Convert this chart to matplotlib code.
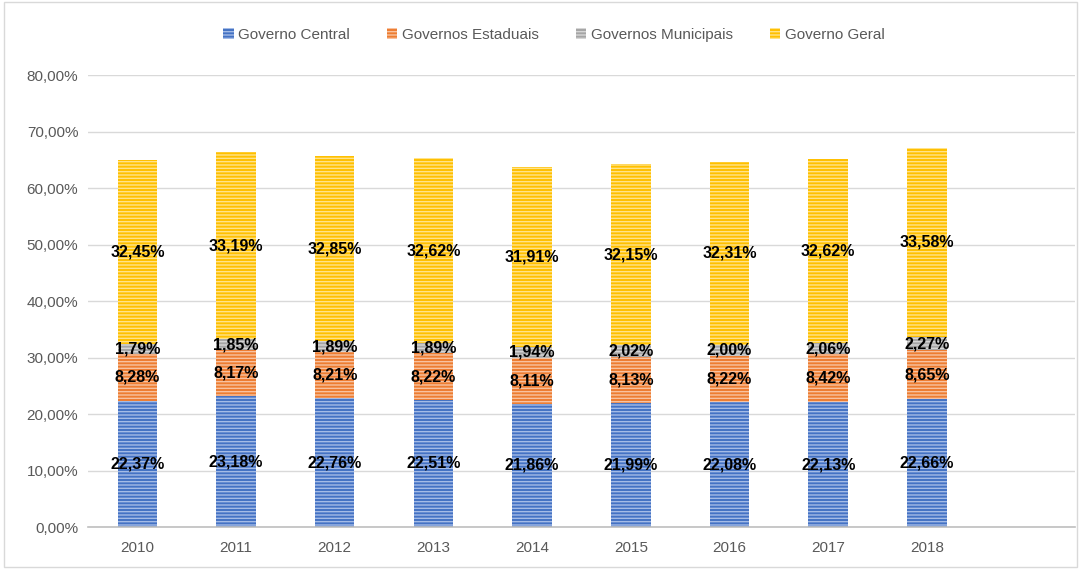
import numpy as np
import matplotlib.pyplot as plt
from matplotlib.patches import Rectangle

# participacao por esfera de governo (% do PIB)
anos = ['2010', '2011', '2012', '2013', '2014', '2015', '2016', '2017', '2018']
central = [22.37, 23.18, 22.76, 22.51, 21.86, 21.99, 22.08, 22.13, 22.66]
estaduais = [8.28, 8.17, 8.21, 8.22, 8.11, 8.13, 8.22, 8.42, 8.65]
municipais = [1.79, 1.85, 1.89, 1.89, 1.94, 2.02, 2.00, 2.06, 2.27]
geral = [32.45, 33.19, 32.85, 32.62, 31.91, 32.15, 32.31, 32.62, 33.58]

series = [
    ('Governo Central', central, '#4472C4', '#A4BBE6'),
    ('Governos Estaduais', estaduais, '#ED7D31', '#F8C2A0'),
    ('Governos Municipais', municipais, '#A5A5A5', '#D6D6D6'),
    ('Governo Geral', geral, '#FFC000', '#FFE38A'),
]

plt.rcParams['font.family'] = ['Liberation Sans', 'DejaVu Sans']
plt.rcParams['hatch.linewidth'] = 1.0


def fmt(v):
    return f'{v:.2f}'.replace('.', ',') + '%'


fig = plt.figure(figsize=(10.81, 5.69), dpi=100)
ax = fig.add_axes([0.0814, 0.0738, 0.913, 0.7942])

x = np.arange(len(anos))
bottom = np.zeros(len(anos))
for name, vals, color, light in series:
    vals = np.array(vals)
    ax.bar(x, vals, width=0.4, bottom=bottom, color=color, edgecolor=light,
           hatch='-----', linewidth=0, label=name, zorder=2)
    for xi, b, v in zip(x, bottom, vals):
        ax.text(xi, b + v / 2, fmt(v), ha='center', va='center', fontsize=11.5,
                fontweight='bold', color='black', zorder=3)
    bottom += vals

ax.set_xlim(-0.5, 9.5)
ax.set_ylim(0, 80)
ax.set_yticks(np.arange(0, 81, 10))
ax.set_yticklabels([f'{v},00%' for v in range(0, 81, 10)])
ax.set_xticks(x)
ax.set_xticklabels(anos)
ax.tick_params(axis='both', length=0, labelsize=11, colors='#595959', pad=7)
ax.tick_params(axis='x', pad=10)
ax.yaxis.grid(True, color='#D9D9D9', linewidth=1, zorder=0)
ax.set_axisbelow(True)
for s in ['top', 'right', 'left']:
    ax.spines[s].set_visible(False)
ax.spines['bottom'].set_color('#BFBFBF')
ax.spines['bottom'].set_linewidth(1.2)

ax.legend(loc='center', bbox_to_anchor=(0.472, 1.0885), ncol=4, frameon=False,
          fontsize=11, handlelength=0.7, handleheight=0.7, handletextpad=0.3,
          columnspacing=2.4, labelcolor='#595959')

fig.patches.append(Rectangle((0.004, 0.004), 0.992, 0.992, transform=fig.transFigure,
                             fill=False, edgecolor='#D9D9D9', linewidth=1))

fig.savefig('out.png', dpi=100)
